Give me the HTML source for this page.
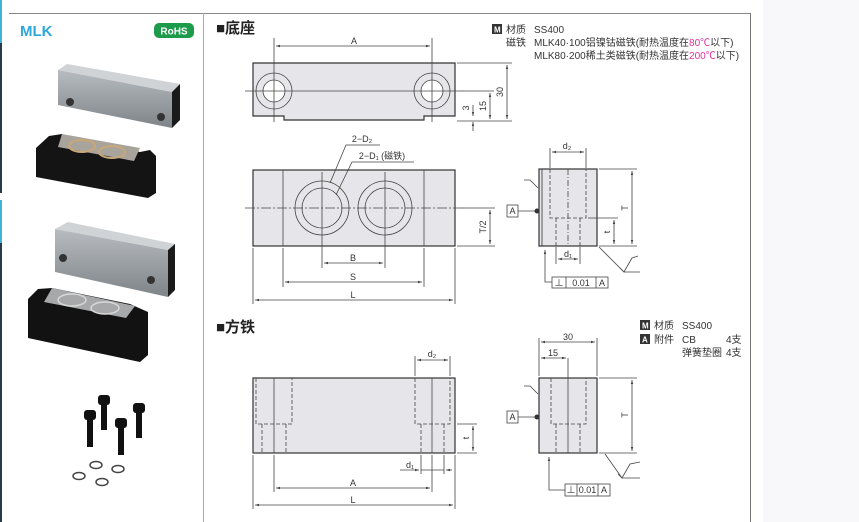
<!DOCTYPE html>
<html><head><meta charset="utf-8"><style>
body{margin:0;background:#fff;}
svg{display:block;font-family:"Liberation Sans","Noto Sans CJK SC",sans-serif;}
</style></head><body>
<svg width="859" height="522" viewBox="0 0 859 522" xmlns="http://www.w3.org/2000/svg">
<defs>
<marker id="ar" viewBox="0 0 10 10" refX="10" refY="5" markerWidth="6" markerHeight="5" orient="auto-start-reverse"><path d="M0,2 L10,5 L0,8z" fill="#444"/></marker>
<linearGradient id="steel" x1="0" y1="0" x2="0" y2="1"><stop offset="0" stop-color="#b8bcc0"/><stop offset="1" stop-color="#7e8488"/></linearGradient>
<linearGradient id="steelT" x1="0" y1="0" x2="1" y2="0"><stop offset="0" stop-color="#8a8e92"/><stop offset="1" stop-color="#c4c8cc"/></linearGradient>
</defs>
<rect x="763" y="0" width="96" height="522" fill="#f8f8fa"/>
<rect x="0" y="0" width="2" height="43" fill="#3fb4d8"/>
<rect x="0" y="43" width="2" height="150" fill="#2a3a4a"/>
<rect x="0" y="200" width="2" height="43" fill="#3fb4d8"/>
<rect x="0" y="243" width="2" height="279" fill="#2a3a4a"/>
<line x1="9" y1="13.5" x2="750" y2="13.5" stroke="#888" stroke-width="1"/>
<line x1="203.5" y1="13" x2="203.5" y2="522" stroke="#aaa" stroke-width="1"/>
<line x1="750.5" y1="13" x2="750.5" y2="522" stroke="#777" stroke-width="1"/>
<text x="20" y="36" font-size="15" font-weight="bold" fill="#2ea8dc">MLK</text>
<rect x="154" y="23" width="40" height="15" rx="5" fill="#1d9a4a"/>
<text x="174" y="34.5" font-size="10" font-weight="bold" fill="#fff" text-anchor="middle">RoHS</text>
<!-- photo 1 -->
<polygon points="58,70 67,64 180,84 172,92" fill="#d0d3d6"/>
<polygon points="58,70 172,92 172,128 58,105" fill="url(#steel)"/>
<polygon points="172,92 180,84 180,120 172,128" fill="#1a1a1a"/>
<circle cx="70" cy="102" r="4" fill="#333"/><circle cx="161" cy="117" r="4" fill="#333"/>
<polygon points="49,136 62,134 64,138 140,152 150,150 156,156 156,193 148,198 36,177 36,148" fill="#141414"/>
<polygon points="62,134 140,148 134,161 58,147" fill="#a8a49c"/>
<ellipse cx="82" cy="146" rx="13" ry="6" fill="none" stroke="#c9a878" stroke-width="2"/>
<ellipse cx="112" cy="152" rx="13" ry="6" fill="none" stroke="#c9a878" stroke-width="2"/>
<!-- photo 2 -->
<polygon points="55,229 68,222 175,244 168,250" fill="#d0d3d6"/>
<polygon points="55,229 168,250 168,297 55,272" fill="url(#steel)"/>
<polygon points="168,250 175,244 175,290 168,297" fill="#1a1a1a"/>
<circle cx="63" cy="258" r="4" fill="#333"/><circle cx="151" cy="280" r="4" fill="#333"/>
<polygon points="28,299 38,289 52,288 130,304 148,312 148,355 140,362 28,338" fill="#121212"/>
<polygon points="52,288 135,306 126,318 44,302" fill="#a6a8aa"/>
<ellipse cx="72" cy="300" rx="14" ry="6" fill="none" stroke="#d8d8d8" stroke-width="1.5"/>
<ellipse cx="105" cy="308" rx="14" ry="6" fill="none" stroke="#d8d8d8" stroke-width="1.5"/>
<!-- bolts -->
<g fill="#111">
<rect x="98" y="395" width="12" height="10" rx="3"/><rect x="101" y="404" width="6" height="26"/>
<rect x="133" y="403" width="12" height="10" rx="3"/><rect x="136" y="412" width="6" height="26"/>
<rect x="84" y="410" width="12" height="10" rx="3"/><rect x="87" y="419" width="6" height="28"/>
<rect x="115" y="418" width="12" height="10" rx="3"/><rect x="118" y="427" width="6" height="28"/>
</g>
<g fill="none" stroke="#444" stroke-width="1.5">
<ellipse cx="96" cy="465" rx="6" ry="3.5"/><ellipse cx="118" cy="469" rx="6" ry="3.5"/>
<ellipse cx="79" cy="476" rx="6" ry="3.5"/><ellipse cx="102" cy="482" rx="6" ry="3.5"/>
</g>
<!-- headings -->
<text x="216" y="33" font-size="15" font-weight="bold" fill="#222">■底座</text>
<text x="216" y="332" font-size="15" font-weight="bold" fill="#222">■方铁</text>
<g font-size="10" fill="#333">
<rect x="492" y="24" width="10" height="10" fill="#333"/><text x="494" y="32.5" font-size="8" fill="#fff" font-weight="bold">M</text>
<text x="506" y="33">材质</text><text x="534" y="33">SS400</text>
<text x="506" y="46">磁铁</text><text x="534" y="46">MLK40·100铝镍钴磁铁(耐热温度在<tspan fill="#e0309a">80℃</tspan>以下)</text>
<text x="534" y="59">MLK80·200稀土类磁铁(耐热温度在<tspan fill="#e0309a">200℃</tspan>以下)</text>
<rect x="640" y="320" width="10" height="10" fill="#333"/><text x="642" y="328.5" font-size="8" fill="#fff" font-weight="bold">M</text>
<text x="654" y="329">材质</text><text x="682" y="329">SS400</text>
<rect x="640" y="334" width="10" height="10" fill="#333"/><text x="642" y="342.5" font-size="8" fill="#fff" font-weight="bold">A</text>
<text x="654" y="343">附件</text><text x="682" y="343">CB</text><text x="726" y="343">4支</text>
<text x="682" y="356">弹簧垫圈</text><text x="726" y="356">4支</text>
</g>
<g stroke="#444" stroke-width="0.8" fill="none">
<!-- top view -->
<path d="M253,63 H455 V116 H424 V120 H284 V116 H253 Z" fill="#e6e6ea" stroke="#333" stroke-width="1.2"/>
<circle cx="274" cy="91" r="18"/><circle cx="274" cy="91" r="11" fill="#fff"/>
<circle cx="432" cy="91" r="18"/><circle cx="432" cy="91" r="11" fill="#fff"/>
<line x1="245" y1="91" x2="463" y2="91"/>
<line x1="274" y1="38" x2="274" y2="122"/><line x1="432" y1="38" x2="432" y2="122"/>
<line x1="276" y1="46" x2="430" y2="46" marker-start="url(#ar)" marker-end="url(#ar)"/>
<line x1="457" y1="63" x2="512" y2="63"/><line x1="457" y1="121" x2="512" y2="121"/><line x1="462" y1="91" x2="494" y2="91"/>
<line x1="507" y1="65" x2="507" y2="119" marker-start="url(#ar)" marker-end="url(#ar)"/>
<line x1="490" y1="93" x2="490" y2="119" marker-start="url(#ar)" marker-end="url(#ar)"/>
<line x1="473" y1="105" x2="473" y2="116" marker-end="url(#ar)"/><line x1="473" y1="131" x2="473" y2="122" marker-end="url(#ar)"/>
<!-- front view -->
<rect x="253" y="170" width="202" height="76" fill="#e6e6ea" stroke="#333" stroke-width="1.2"/>
<line x1="283" y1="170" x2="283" y2="246"/><line x1="424" y1="170" x2="424" y2="246"/>
<circle cx="322" cy="208" r="27"/><circle cx="322" cy="208" r="20"/>
<circle cx="385" cy="208" r="27"/><circle cx="385" cy="208" r="20"/>
<line x1="245" y1="208" x2="463" y2="208" stroke-dasharray="10,2,2,2"/>
<line x1="322" y1="172" x2="322" y2="268"/><line x1="385" y1="172" x2="385" y2="268"/>
<line x1="324" y1="263" x2="383" y2="263" marker-start="url(#ar)" marker-end="url(#ar)"/>
<line x1="283" y1="248" x2="283" y2="287"/><line x1="424" y1="248" x2="424" y2="287"/>
<line x1="285" y1="282" x2="422" y2="282" marker-start="url(#ar)" marker-end="url(#ar)"/>
<line x1="253" y1="248" x2="253" y2="304"/><line x1="455" y1="248" x2="455" y2="304"/>
<line x1="255" y1="300" x2="453" y2="300" marker-start="url(#ar)" marker-end="url(#ar)"/>
<line x1="457" y1="246" x2="495" y2="246"/><line x1="462" y1="208" x2="495" y2="208"/>
<line x1="490" y1="210" x2="490" y2="244" marker-start="url(#ar)" marker-end="url(#ar)"/>
<polyline points="380,145 346,145 330,183"/><polyline points="414,162 352,162 336,195"/>
<!-- side view top -->
<rect x="539" y="169" width="58" height="77" fill="#e6e6ea" stroke="#333" stroke-width="1.2"/>
<line x1="542" y1="169" x2="542" y2="246" stroke="#333"/>
<line x1="568" y1="169" x2="568" y2="246" stroke-dasharray="6,2,1,2"/>
<path d="M550,169 V218 H586 V169 M556,218 V246 M580,218 V246" stroke-dasharray="4,2"/>
<line x1="550" y1="148" x2="550" y2="168"/><line x1="586" y1="148" x2="586" y2="168"/>
<line x1="552" y1="152" x2="584" y2="152" marker-start="url(#ar)" marker-end="url(#ar)"/>
<line x1="556" y1="247" x2="556" y2="264"/><line x1="580" y1="247" x2="580" y2="264"/>
<line x1="558" y1="259" x2="578" y2="259" marker-start="url(#ar)" marker-end="url(#ar)"/>
<line x1="599" y1="169" x2="637" y2="169"/><line x1="599" y1="246" x2="637" y2="246"/><line x1="588" y1="218" x2="618" y2="218"/>
<line x1="632" y1="171" x2="632" y2="244" marker-start="url(#ar)" marker-end="url(#ar)"/>
<line x1="614" y1="220" x2="614" y2="244" marker-start="url(#ar)" marker-end="url(#ar)"/>
<line x1="518" y1="211" x2="537" y2="211"/>
<polyline points="552,282 545,282 545,250" marker-end="url(#ar)"/>
<polyline points="599,247 624,272 640,272"/><polyline points="620,268 624,272 632,258 638,256"/>
<polyline points="538,188 530,180 524,180"/>
<!-- front bottom -->
<rect x="253" y="378" width="202" height="75" fill="#e6e6ea" stroke="#333" stroke-width="1.2"/>
<line x1="274" y1="378" x2="274" y2="453"/><line x1="432" y1="378" x2="432" y2="453"/>
<path d="M256,378 V424 H292 V378 M262,424 V453 M286,424 V453 M415,378 V424 H450 V378 M421,424 V453 M444,424 V453" stroke-dasharray="4,2"/>
<line x1="415" y1="356" x2="415" y2="376"/><line x1="450" y1="356" x2="450" y2="376"/>
<line x1="417" y1="360" x2="448" y2="360" marker-start="url(#ar)" marker-end="url(#ar)"/>
<line x1="457" y1="424" x2="477" y2="424"/><line x1="457" y1="453" x2="477" y2="453"/>
<line x1="473" y1="426" x2="473" y2="451" marker-start="url(#ar)" marker-end="url(#ar)"/>
<line x1="421" y1="455" x2="421" y2="474"/><line x1="444" y1="455" x2="444" y2="474"/>
<line x1="400" y1="470" x2="419" y2="470" marker-end="url(#ar)"/><line x1="452" y1="470" x2="446" y2="470" marker-end="url(#ar)"/><line x1="421" y1="470" x2="444" y2="470"/>
<line x1="274" y1="455" x2="274" y2="492"/><line x1="432" y1="455" x2="432" y2="492"/>
<line x1="276" y1="488" x2="430" y2="488" marker-start="url(#ar)" marker-end="url(#ar)"/>
<line x1="253" y1="455" x2="253" y2="509"/><line x1="455" y1="455" x2="455" y2="509"/>
<line x1="255" y1="505" x2="453" y2="505" marker-start="url(#ar)" marker-end="url(#ar)"/>
<!-- side bottom -->
<rect x="539" y="378" width="58" height="75" fill="#e6e6ea" stroke="#333" stroke-width="1.2"/>
<line x1="568" y1="358" x2="568" y2="453"/>
<path d="M551,378 V424 H586 V378 M556,424 V453 M580,424 V453" stroke-dasharray="4,2"/>
<line x1="539" y1="338" x2="539" y2="376"/><line x1="597" y1="338" x2="597" y2="376"/>
<line x1="541" y1="342" x2="595" y2="342" marker-start="url(#ar)" marker-end="url(#ar)"/>
<line x1="541" y1="358" x2="566" y2="358" marker-start="url(#ar)" marker-end="url(#ar)"/>
<line x1="599" y1="378" x2="637" y2="378"/><line x1="599" y1="453" x2="637" y2="453"/>
<line x1="632" y1="380" x2="632" y2="451" marker-start="url(#ar)" marker-end="url(#ar)"/>
<line x1="518" y1="417" x2="537" y2="417"/>
<polyline points="565,490 549,490 549,457" marker-end="url(#ar)"/>
<polyline points="605,454 622,478 640,478"/><polyline points="618,474 622,478 630,464 640,462"/>
<polyline points="538,394 530,386 524,386"/>
</g>
<circle cx="537" cy="211" r="2.5" fill="#333"/><circle cx="537" cy="417" r="2.5" fill="#333"/>
<g fill="#fff" stroke="#444" stroke-width="0.8">
<rect x="507" y="205" width="11" height="12"/><rect x="507" y="411" width="11" height="12"/>
<rect x="552" y="277" width="56" height="11"/><rect x="565" y="484" width="45" height="12"/>
</g>
<g stroke="#444" stroke-width="0.8"><line x1="566" y1="277" x2="566" y2="288"/><line x1="596" y1="277" x2="596" y2="288"/><line x1="577" y1="484" x2="577" y2="496"/><line x1="598" y1="484" x2="598" y2="496"/></g>
<g font-size="9" fill="#333" text-anchor="middle">
<text x="354" y="44">A</text>
<text x="512.5" y="214">A</text><text x="512.5" y="420">A</text>
<text x="559" y="286">⊥</text><text x="581" y="286">0.01</text><text x="602" y="286">A</text>
<text x="571" y="493">⊥</text><text x="587.5" y="493">0.01</text><text x="604" y="493">A</text>
<text x="353" y="261">B</text><text x="353" y="280">S</text><text x="353" y="298">L</text>
<text x="567" y="149">d₂</text><text x="568" y="257">d₁</text>
<text x="432" y="357">d₂</text><text x="410" y="468">d₁</text>
<text x="353" y="486">A</text><text x="353" y="503">L</text>
<text x="568" y="340">30</text><text x="553" y="356">15</text>
<text x="362" y="142">2−D₂</text><text x="382" y="159">2−D₁ (磁铁)</text>
</g>
<g font-size="9" fill="#333" text-anchor="middle">
<text transform="translate(503,92) rotate(-90)">30</text>
<text transform="translate(486,106) rotate(-90)">15</text>
<text transform="translate(469,108) rotate(-90)">3</text>
<text transform="translate(486,227) rotate(-90)">T/2</text>
<text transform="translate(628,208) rotate(-90)">T</text>
<text transform="translate(610,232) rotate(-90)">t</text>
<text transform="translate(628,415) rotate(-90)">T</text>
<text transform="translate(469,438) rotate(-90)">t</text>
</g>
</svg>
</body></html>
